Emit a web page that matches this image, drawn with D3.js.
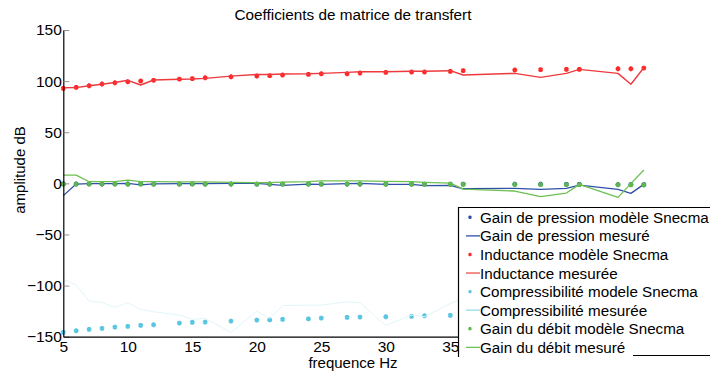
<!DOCTYPE html>
<html><head><meta charset="utf-8">
<script src="https://cdn.jsdelivr.net/npm/d3@7"></script>
<style>
html,body{margin:0;padding:0;background:#fff;}
svg{display:block;font-family:"Liberation Sans",Arial,sans-serif;}
</style></head>
<body>
<svg id="c" width="710" height="371"></svg>
<script>
const freq = [5,6,7,8,9,10,11,12,14,15,16,18,20,21,22,24,25,27,28,30,32,33,35,36,40,42,44,45,48,49,50];
const pressionModele = [-0.5,-0.6,-0.5,-0.6,-0.5,-0.6,-0.5,-0.6,-0.6,-0.5,-0.6,-0.6,-0.7,-0.6,-0.7,-0.6,-0.7,-0.7,-0.6,-0.7,-0.8,-0.7,-0.8,-0.8,-0.9,-0.9,-1.0,-1.0,-1.1,-1.1,-1.2];
const pressionMesure = [-12,-0.7,-0.3,-0.3,-0.3,0,-1.5,-0.5,-0.3,-0.3,-0.3,0,0,-1,-2,-0.7,-1,-0.3,0,-1,-1,-2.3,-2,-5.3,-4.9,-5.9,-4.9,-1.7,-5.9,-9.8,-1];
const inductanceModele = [92.9,93.9,95.5,97.2,98.4,99.4,100.1,100.8,102.0,102.4,103.3,104.3,105.0,105.3,106.0,106.6,107.2,107.2,107.9,108.6,108.9,108.9,109.6,110.2,110.9,111.2,111.5,111.5,112.1,112.1,112.7];
const inductanceMesure = [93.5,93.6,95.5,97.0,98.6,100.8,96.2,101.1,101.8,102.1,102.7,104.9,106.5,106.4,107.0,107.2,107.6,108.6,109.2,109.2,109.6,109.6,110.2,106.0,107.6,103.7,107.6,111.5,107.6,96.9,113.1];
const compressModele = [-145.8,-144.2,-142.9,-141.9,-140.6,-139.9,-138.9,-138.3,-136.7,-136.0,-135.7,-134.7,-133.8,-133.5,-133.1,-132.5,-131.8,-131.1,-130.8,-130.5,-130.1,-129.5,-129.2,-129.0,-128.4,-128.1,-127.8,-127.6,-127.2,-127.0,-126.8];
const compressMesure = [-94,-99.5,-115.2,-116.5,-121.3,-116.8,-123.3,-125.6,-128.9,-133.1,-132.1,-145.8,-125,-132.1,-119.5,-119.1,-119.1,-115.8,-116.8,-139.1,-128.8,-130.5,-117.5,-112,-114,-118,-116,-120,-117,-121,-118];
const debitModele = [-0.7,-0.7,-0.7,-0.7,-0.7,-0.7,-0.7,-0.7,-0.7,-0.7,-0.7,-0.7,-0.7,-0.7,-0.8,-0.8,-0.8,-0.8,-0.8,-0.9,-0.9,-1.0,-1.0,-1.0,-1.1,-1.3,-1.3,-1.3,-1.4,-1.5,-1.6];
const debitMesure = [8.1,8.1,1.6,1.6,1.6,3.2,1.6,1.6,1.5,1.5,1.5,1.0,0.6,0.8,1.2,1.6,2.5,2.5,2.5,1.9,1.6,1.0,0.3,-5.6,-7.5,-13,-9.5,-1,-13.7,-0.3,13];
const xTicks = [5,10,15,20,25,30,35];
const yTicks = [-150,-100,-50,0,50,100,150];
const legendLabels = ["Gain de pression modèle Snecma","Gain de pression mesuré","Inductance modèle Snecma","Inductance mesurée","Compressibilité modele Snecma","Compressibilité mesurée","Gain du débit modèle Snecma","Gain du débit mesuré"];
const titleText = "Coefficients de matrice de transfert";
const xLabel = "frequence Hz";
const yLabel = "amplitude dB";

const series = [
  {vals: pressionModele, type:"m", color:"#2a48a8"},
  {vals: pressionMesure, type:"l", color:"#3050a8", lw:1.3, lcol:"#3050a8"},
  {vals: inductanceModele, type:"m", color:"#ff2828"},
  {vals: inductanceMesure, type:"l", color:"#ee3a3e", lw:1.4, lcol:"#f28a8a"},
  {vals: compressModele, type:"m", color:"#58c6e0"},
  {vals: compressMesure, type:"l", color:"#e2f6f9", lw:1, lcol:"#98dcea"},
  {vals: debitModele, type:"m", color:"#5cb84c"},
  {vals: debitMesure, type:"l", color:"#6cc050", lw:1.3, lcol:"#70c058"}
];

const svg = d3.select("#c");
const x = d3.scaleLinear().domain([5,50]).range([63.3,643.8]);
const y = d3.scaleLinear().domain([-150,150]).range([336.7,30]);

const plot = svg.append("g");
const sym = d3.symbol().type(d3.symbolAsterisk).size(16);
series.forEach(s => {
  const pts = freq.map((f,i)=>[f,s.vals[i]]);
  if (s.type === "l") {
    plot.append("path").datum(pts)
      .attr("fill","none").attr("stroke",s.color).attr("stroke-width",s.lw)
      .attr("stroke-linejoin","round")
      .attr("d", d3.line().x(d=>x(d[0])).y(d=>y(d[1])));
  } else {
    plot.selectAll(null).data(pts).enter().append("path")
      .attr("transform", d=>`translate(${x(d[0])},${y(d[1])})`)
      .attr("d", sym).attr("fill","none").attr("stroke",s.color).attr("stroke-width",2);
  }
});

// axes
const yAxis = d3.axisLeft(y).tickValues(yTicks).tickSizeInner(-6).tickSizeOuter(0).tickPadding(1.5);
const gy = svg.append("g").attr("transform","translate(63.3,0)").call(yAxis);
gy.select(".domain").attr("stroke","#000").attr("stroke-width",1.2);
gy.selectAll(".tick line").attr("stroke","#777").attr("stroke-width",0.8);
gy.selectAll(".tick text").attr("font-size",15.5).attr("fill","#000").attr("font-family","Liberation Sans, Arial, sans-serif");

const xAxis = d3.axisBottom(x).tickValues(xTicks).tickSizeInner(0).tickSizeOuter(0).tickPadding(4);
const gx = svg.append("g").attr("transform","translate(0,336.7)").call(xAxis);
gx.select(".domain").attr("stroke","#000").attr("stroke-width",1.2);
gx.selectAll(".tick text").attr("font-size",15.5).attr("fill","#000").attr("font-family","Liberation Sans, Arial, sans-serif");

// title and labels
svg.append("text").attr("x",353).attr("y",20).attr("text-anchor","middle")
  .attr("font-size",15.3).text(titleText);
svg.append("text").attr("x",353).attr("y",367.5).attr("text-anchor","middle")
  .attr("font-size",15).text(xLabel);
svg.append("text").attr("transform","translate(25,170) rotate(-90)").attr("text-anchor","middle")
  .attr("font-size",15).text(yLabel);

// legend
const lg = svg.append("g");
lg.append("rect").attr("x",458).attr("y",207).attr("width",260).attr("height",150).attr("fill","#fff");
lg.append("line").attr("x1",458).attr("x2",712).attr("y1",207.5).attr("y2",207.5).attr("stroke","#000").attr("stroke-width",1.2);
lg.append("line").attr("x1",458.5).attr("x2",458.5).attr("y1",207).attr("y2",357).attr("stroke","#000").attr("stroke-width",1.2);
lg.append("line").attr("x1",633).attr("x2",712).attr("y1",355.5).attr("y2",355.5).attr("stroke","#000").attr("stroke-width",1.2);
const lsym = d3.symbol().type(d3.symbolAsterisk).size(8);
legendLabels.forEach((lab,i) => {
  const s = series[i];
  const yy = 217.3 + i*18.58;
  if (s.type === "m") {
    lg.append("path").attr("transform",`translate(470,${yy})`).attr("d",lsym)
      .attr("fill","none").attr("stroke",s.color).attr("stroke-width",1.4);
  } else {
    lg.append("line").attr("x1",466).attr("x2",480).attr("y1",yy).attr("y2",yy)
      .attr("stroke",s.lcol).attr("stroke-width",s.lw>1.35?2:1.3);
  }
  lg.append("text").attr("x",480).attr("y",yy).attr("dy","0.36em").attr("font-size",15.2)
    .text(lab);
});
</script>
</body></html>
